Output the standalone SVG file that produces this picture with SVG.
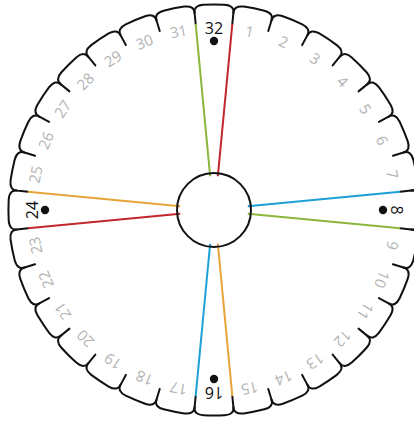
<svg xmlns="http://www.w3.org/2000/svg" xmlns:xlink="http://www.w3.org/1999/xlink" width="414" height="421" viewBox="0 0 414 421">
<style>
.edge{fill:none;stroke:#111;stroke-width:2;stroke-linejoin:round;stroke-linecap:round}
.hub{fill:none;stroke:#111;stroke-width:2}
.lbl{font-family:"Open Sans","DejaVu Sans",sans-serif;font-size:15px;fill:#b3b3b3;text-anchor:middle}
.key{fill:#111;font-size:16px}
.dot{fill:#111}
.c{stroke-width:2;fill:none}
.g{stroke:#8cb63c}.r{stroke:#c1272d}.o{stroke:#e8a33a}.b{stroke:#1e9fd8}
</style>
<defs>
<path id="seg" class="edge" d="M-19.41,-197.05 Q-20.4,-204.6 -10.5,-205.3 A205.5,205.5 0 0 1 10.5,-205.3 Q20.4,-204.6 19.41,-197.05 L18.33,-186.1"/>
</defs>
<g transform="translate(214,210)">
<g id="disk">
<use xlink:href="#seg"/>
<use xlink:href="#seg" transform="rotate(11.25)"/>
<use xlink:href="#seg" transform="rotate(22.5)"/>
<use xlink:href="#seg" transform="rotate(33.75)"/>
<use xlink:href="#seg" transform="rotate(45)"/>
<use xlink:href="#seg" transform="rotate(56.25)"/>
<use xlink:href="#seg" transform="rotate(67.5)"/>
<use xlink:href="#seg" transform="rotate(78.75)"/>
<use xlink:href="#seg" transform="rotate(90)"/>
<use xlink:href="#seg" transform="rotate(101.25)"/>
<use xlink:href="#seg" transform="rotate(112.5)"/>
<use xlink:href="#seg" transform="rotate(123.75)"/>
<use xlink:href="#seg" transform="rotate(135)"/>
<use xlink:href="#seg" transform="rotate(146.25)"/>
<use xlink:href="#seg" transform="rotate(157.5)"/>
<use xlink:href="#seg" transform="rotate(168.75)"/>
<use xlink:href="#seg" transform="rotate(180)"/>
<use xlink:href="#seg" transform="rotate(191.25)"/>
<use xlink:href="#seg" transform="rotate(202.5)"/>
<use xlink:href="#seg" transform="rotate(213.75)"/>
<use xlink:href="#seg" transform="rotate(225)"/>
<use xlink:href="#seg" transform="rotate(236.25)"/>
<use xlink:href="#seg" transform="rotate(247.5)"/>
<use xlink:href="#seg" transform="rotate(258.75)"/>
<use xlink:href="#seg" transform="rotate(270)"/>
<use xlink:href="#seg" transform="rotate(281.25)"/>
<use xlink:href="#seg" transform="rotate(292.5)"/>
<use xlink:href="#seg" transform="rotate(303.75)"/>
<use xlink:href="#seg" transform="rotate(315)"/>
<use xlink:href="#seg" transform="rotate(326.25)"/>
<use xlink:href="#seg" transform="rotate(337.5)"/>
<use xlink:href="#seg" transform="rotate(348.75)"/>
</g>
<g id="connectors">
<line class="c g" x1="-18.33" y1="-186.1" x2="-3.85" y2="-33.78"/>
<line class="c r" x1="18.33" y1="-186.1" x2="3.85" y2="-33.78"/>
<line class="c b" x1="186.1" y1="-18.33" x2="33.78" y2="-3.85"/>
<line class="c g" x1="186.1" y1="18.33" x2="33.78" y2="3.85"/>
<line class="c b" x1="-18.33" y1="186.1" x2="-3.85" y2="33.78"/>
<line class="c o" x1="18.33" y1="186.1" x2="3.85" y2="33.78"/>
<line class="c o" x1="-186.1" y1="-18.33" x2="-33.78" y2="-3.85"/>
<line class="c r" x1="-186.1" y1="18.33" x2="-33.78" y2="3.85"/>
</g>
<g id="hub"><circle class="hub" cx="0" cy="0" r="37"/></g>
<g id="labels">
<text class="lbl" transform="rotate(11.25)" x="0" y="-176.5">1</text>
<text class="lbl" transform="rotate(22.5)" x="0" y="-176.5">2</text>
<text class="lbl" transform="rotate(33.75)" x="0" y="-176.5">3</text>
<text class="lbl" transform="rotate(45)" x="0" y="-176.5">4</text>
<text class="lbl" transform="rotate(56.25)" x="0" y="-176.5">5</text>
<text class="lbl" transform="rotate(67.5)" x="0" y="-176.5">6</text>
<text class="lbl" transform="rotate(78.75)" x="0" y="-176.5">7</text>
<text class="lbl" transform="rotate(101.25)" x="0" y="-176.5">9</text>
<text class="lbl" transform="rotate(112.5)" x="0" y="-176.5">10</text>
<text class="lbl" transform="rotate(123.75)" x="0" y="-176.5">11</text>
<text class="lbl" transform="rotate(135)" x="0" y="-176.5">12</text>
<text class="lbl" transform="rotate(146.25)" x="0" y="-176.5">13</text>
<text class="lbl" transform="rotate(157.5)" x="0" y="-176.5">14</text>
<text class="lbl" transform="rotate(168.75)" x="0" y="-176.5">15</text>
<text class="lbl" transform="rotate(191.25)" x="0" y="-176.5">17</text>
<text class="lbl" transform="rotate(202.5)" x="0" y="-176.5">18</text>
<text class="lbl" transform="rotate(213.75)" x="0" y="-176.5">19</text>
<text class="lbl" transform="rotate(225)" x="0" y="-176.5">20</text>
<text class="lbl" transform="rotate(236.25)" x="0" y="-176.5">21</text>
<text class="lbl" transform="rotate(247.5)" x="0" y="-176.5">22</text>
<text class="lbl" transform="rotate(258.75)" x="0" y="-176.5">23</text>
<text class="lbl" transform="rotate(281.25)" x="0" y="-176.5">25</text>
<text class="lbl" transform="rotate(292.5)" x="0" y="-176.5">26</text>
<text class="lbl" transform="rotate(303.75)" x="0" y="-176.5">27</text>
<text class="lbl" transform="rotate(315)" x="0" y="-176.5">28</text>
<text class="lbl" transform="rotate(326.25)" x="0" y="-176.5">29</text>
<text class="lbl" transform="rotate(337.5)" x="0" y="-176.5">30</text>
<text class="lbl" transform="rotate(348.75)" x="0" y="-176.5">31</text>
</g>
<g id="slot32"><text class="lbl key" x="0" y="-176.5">32</text><circle class="dot" cx="0" cy="-169" r="4.2"/></g>
<g id="slot8" transform="rotate(90)"><text class="lbl key" x="0" y="-176.5">8</text><circle class="dot" cx="0" cy="-169" r="4.2"/></g>
<g id="slot16" transform="rotate(180)"><text class="lbl key" x="0" y="-176.5">16</text><circle class="dot" cx="0" cy="-169" r="4.2"/></g>
<g id="slot24" transform="rotate(270)"><text class="lbl key" x="0" y="-176.5">24</text><circle class="dot" cx="0" cy="-169" r="4.2"/></g>
</g>
</svg>
